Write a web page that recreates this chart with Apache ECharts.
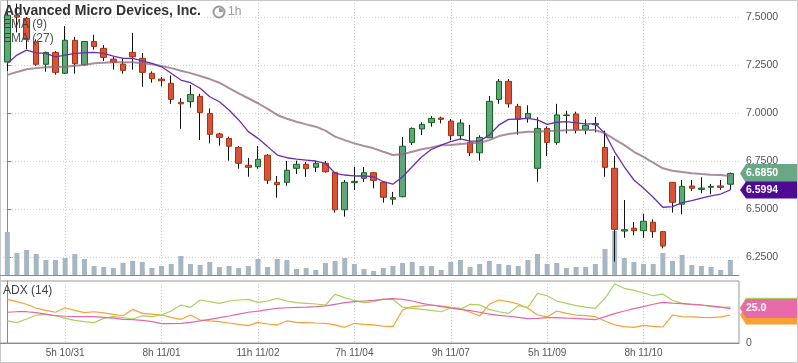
<!DOCTYPE html>
<html><head><meta charset="utf-8">
<script src="https://cdn.jsdelivr.net/npm/echarts@6/dist/echarts.min.js"></script>
<style>html,body{margin:0;padding:0;background:#fff}#c{width:798px;height:363px}</style>
</head><body><div id="c"></div><script>
// ---- data (1h candles, AMD) ----
const xTickIdx = [6, 16, 26, 36, 46, 56, 66];
const xTickLabels = ['5h 10/31', '8h 11/01', '11h 11/02', '7h 11/04', '9h 11/07', '5h 11/09', '8h 11/10'];
const priceTicks = [6.25, 6.5, 6.75, 7.0, 7.25, 7.5];

const open = [7.266,7.510,7.493,7.371,7.254,7.316,7.207,7.379,7.252,7.373,
 7.337,7.281,7.255,7.316,7.285,7.207,7.177,7.155,7.056,7.059,
 7.087,6.998,6.891,6.868,6.821,6.728,6.720,6.780,6.639,6.639,
 6.712,6.733,6.717,6.738,6.691,6.496,6.637,6.660,6.689,6.639,
 6.551,6.564,6.847,6.917,6.950,6.974,6.958,6.882,6.847,6.793,
 6.871,7.071,7.165,7.035,6.972,6.712,6.920,6.847,6.987,6.995,
 6.915,6.939,6.821,6.712,6.385,6.400,6.387,6.431,6.382,6.639,
 6.525,6.620,6.602,6.613,6.620,6.629];
const close = [7.510,7.500,7.384,7.254,7.316,7.212,7.379,7.257,7.373,7.347,
 7.290,7.264,7.222,7.293,7.212,7.179,7.168,7.071,7.048,7.097,
 7.003,6.889,6.873,6.827,6.738,6.717,6.759,6.650,6.627,6.702,
 6.733,6.710,6.738,6.694,6.496,6.639,6.644,6.689,6.649,6.561,
 6.559,6.827,6.920,6.941,6.972,6.967,6.882,6.948,6.793,6.873,
 7.061,7.165,7.048,6.967,6.998,6.920,6.847,6.990,6.990,6.911,
 6.936,6.945,6.717,6.394,6.392,6.387,6.436,6.382,6.307,6.535,
 6.618,6.608,6.609,6.618,6.613,6.685];
const low = [7.219,7.420,7.333,7.246,7.215,7.200,7.203,7.205,7.245,7.330,
 7.271,7.226,7.205,7.226,7.137,7.158,7.139,7.048,6.918,7.028,
 6.859,6.842,6.830,6.752,6.710,6.668,6.710,6.630,6.559,6.621,
 6.682,6.668,6.693,6.689,6.481,6.460,6.599,6.641,6.608,6.533,
 6.522,6.561,6.833,6.885,6.929,6.946,6.858,6.859,6.776,6.752,
 6.870,7.048,7.028,6.887,6.950,6.642,6.776,6.835,6.894,6.894,
 6.889,6.899,6.668,6.226,6.350,6.363,6.350,6.350,6.295,6.481,
 6.472,6.594,6.582,6.577,6.600,6.600];
const high = [7.521,7.570,7.500,7.384,7.320,7.323,7.453,7.396,7.375,7.408,
 7.354,7.292,7.288,7.418,7.313,7.217,7.188,7.196,7.077,7.146,
 7.100,7.024,6.897,6.877,6.828,6.766,6.828,6.786,6.672,6.750,
 6.752,6.746,6.750,6.750,6.693,6.651,6.720,6.719,6.690,6.640,
 6.589,6.875,6.925,6.952,6.984,6.981,6.969,6.967,6.938,6.884,
 7.089,7.177,7.177,7.048,7.040,6.978,6.930,7.048,7.012,7.007,
 6.967,6.979,6.908,6.776,6.547,6.432,6.474,6.446,6.385,6.640,
 6.651,6.651,6.665,6.630,6.651,6.690];
const volume = [43,22,25,21,15,15,17,21,16,9,
 8,7,12,14,13,7,9,11,19,11,
 10,13,8,9,7,9,16,8,16,15,
 6,7,5,12,14,17,11,6,4,7,
 9,12,13,9,9,5,13,15,8,11,
 14,11,10,9,15,21,11,12,7,8,
 8,11,26,44,17,13,11,11,22,14,
 20,10,9,8,5,15];
const ema9 = [7.260,7.302,7.328,7.314,7.311,7.293,7.302,7.311,7.314,7.316,
 7.311,7.297,7.285,7.285,7.272,7.259,7.241,7.207,7.172,7.158,
 7.129,7.085,7.059,7.016,6.964,6.903,6.868,6.825,6.781,6.767,
 6.760,6.755,6.750,6.738,6.686,6.677,6.672,6.672,6.668,6.642,
 6.629,6.668,6.720,6.772,6.811,6.833,6.851,6.865,6.854,6.854,
 6.885,6.938,6.967,6.969,6.972,6.964,6.941,6.952,6.955,6.949,
 6.944,6.943,6.894,6.798,6.720,6.651,6.608,6.561,6.509,6.512,
 6.533,6.543,6.556,6.568,6.578,6.5994];
const ema27 = [7.199,7.214,7.228,7.234,7.238,7.240,7.241,7.246,7.250,7.259,
 7.262,7.264,7.264,7.264,7.260,7.254,7.245,7.234,7.220,7.208,
 7.193,7.177,7.158,7.130,7.103,7.077,7.051,7.022,6.990,6.970,
 6.955,6.941,6.929,6.908,6.877,6.859,6.842,6.828,6.816,6.798,
 6.781,6.785,6.798,6.811,6.821,6.832,6.833,6.839,6.842,6.845,
 6.859,6.880,6.891,6.897,6.903,6.903,6.906,6.908,6.910,6.911,
 6.911,6.911,6.894,6.863,6.833,6.798,6.772,6.741,6.712,6.699,
 6.693,6.686,6.682,6.679,6.677,6.672];
const adx = [22.3,22.7,22.7,22.0,21.0,19.8,19.4,19.1,19.1,19.1,
 18.6,18.1,17.2,16.9,16.4,15.5,14.0,14.0,14.3,15.0,
 16.0,17.2,18.4,19.6,21.0,22.3,23.2,24.2,25.2,25.6,
 25.9,26.1,26.4,26.9,28.1,29.3,30.0,30.5,31.0,31.7,
 32.2,31.7,30.5,28.8,27.6,26.4,25.4,24.4,23.5,22.3,
 21.0,20.1,19.4,18.6,17.7,17.9,18.4,18.4,18.1,17.9,
 17.4,16.9,19.1,21.3,23.2,24.9,26.4,28.1,29.5,29.0,
 28.6,28.1,27.6,26.9,26.1,25.0];
const plusDI = [31.7,30.0,28.1,25.2,23.7,22.3,25.6,23.7,22.0,22.7,
 21.8,20.8,19.8,24.4,21.5,21.0,20.3,18.6,17.2,20.3,
 16.7,16.0,15.5,14.5,13.5,12.6,15.0,13.8,13.1,16.0,
 15.0,14.8,14.5,14.3,13.1,11.4,14.3,13.5,13.1,12.3,
 11.9,24.0,26.4,26.9,27.6,26.9,25.9,25.2,22.3,19.6,
 28.1,31.2,30.0,28.3,25.2,20.3,18.9,23.2,21.5,20.3,
 19.8,19.1,16.0,13.1,11.9,11.4,12.8,12.1,11.6,20.3,
 19.1,18.9,18.6,18.4,18.9,20.3];
const minusDI = [16.0,14.8,17.4,20.3,20.8,19.8,17.9,16.4,15.5,14.8,
 17.9,19.1,18.4,17.4,19.8,19.1,20.3,23.2,27.6,25.9,
 31.2,30.0,28.8,30.5,31.2,31.7,29.5,30.5,32.4,30.5,
 29.3,28.8,28.3,27.6,35.3,32.9,30.7,29.3,30.0,31.9,
 31.7,26.0,25.2,24.4,23.7,22.7,25.6,24.4,28.1,27.6,
 24.4,22.7,21.5,27.1,25.9,36.0,34.3,30.5,28.8,27.1,
 26.1,25.2,32.4,42.8,39.7,38.2,36.3,34.3,35.6,31.0,
 28.8,28.1,27.6,26.4,25.9,26.0];

// ---- styling ----
const FONT = "'Liberation Sans', Arial, sans-serif";
const C = {
  upFill: '#62a47c', upBorder: '#0e6a1c', downFill: '#d9533b', downBorder: '#a6330f',
  ema9: '#6c2db5', ema27: 'rgba(140,105,125,0.75)', vol: '#a6b6c3',
  adx: '#e667a6', plus: '#f8a133', minus: '#a7d25c', grid: '#cfcfcf', axis: '#8a8a8a', text: '#555'
};
const idx = open.map((_, i) => i);
const pairs = arr => arr.map((v, i) => [i, v]);
const X_MIN = -0.76, X_MAX = 75.9;

const labelFor = v => { const k = xTickIdx.indexOf(Math.round(v)); return k >= 0 ? xTickLabels[k] : ''; };

const xCommon = {
  type: 'value', min: X_MIN, max: X_MAX,
  axisTick: { show: false, customValues: xTickIdx },
  splitLine: { show: true, lineStyle: { color: C.grid, type: [1, 2], width: 1 } }
};
const smallTitle = (text, left, top, color) => ({
  text: text, left: left, top: top, padding: 0, zlevel: 1, z: 20,
  textStyle: { fontSize: 12, fontWeight: 'normal', color: color, fontFamily: FONT }
});

const chart = echarts.init(document.getElementById('c'), null, { renderer: 'canvas' });
chart.setOption({
  animation: false,
  backgroundColor: '#fff',
  textStyle: { fontFamily: FONT },
  title: [
    { text: 'Advanced Micro Devices, Inc.', left: 4, top: 4, padding: 0, zlevel: 1, z: 20,
      textStyle: { fontSize: 14, fontWeight: 'bold', color: '#333', fontFamily: FONT } },
    smallTitle('1h', 228, 6, '#9a9a9a'),
    smallTitle('EMA (9)', 3, 19, 'rgba(60,60,60,0.9)'),
    smallTitle('EMA (27)', 3, 33, 'rgba(60,60,60,0.9)'),
    smallTitle('ADX (14)', 3, 285, '#444')
  ],
  grid: [
    { left: 0, right: 59, top: 0, height: 275 },
    { left: 0, right: 59, top: 175, height: 100 },
    { left: 0, right: 59, top: 281, height: 62, show: true, borderColor: '#999', borderWidth: 1, backgroundColor: 'transparent' }
  ],
  xAxis: [
    Object.assign({}, xCommon, { gridIndex: 0, axisLine: { show: true, onZero: false, lineStyle: { color: C.axis } },
      axisLabel: { show: false, customValues: xTickIdx } }),
    { type: 'value', gridIndex: 1, min: X_MIN, max: X_MAX, show: false },
    Object.assign({}, xCommon, { gridIndex: 2, axisLine: { show: true, onZero: false, lineStyle: { color: C.axis } },
      axisLabel: { show: true, customValues: xTickIdx, formatter: labelFor, color: C.text, fontSize: 10, margin: 5, fontFamily: FONT } })
  ],
  yAxis: [
    { type: 'value', gridIndex: 0, position: 'right', min: 6.156, max: 7.589, scale: true,
      axisLine: { show: true, lineStyle: { color: C.axis } },
      axisTick: { show: true, length: 4, customValues: priceTicks, lineStyle: { color: C.axis } },
      axisLabel: { customValues: priceTicks, formatter: v => v.toFixed(4), color: C.text, fontSize: 10.5, margin: 7, fontFamily: FONT },
      splitLine: { show: true, lineStyle: { color: C.grid, type: [1, 2] } } },
    { type: 'value', gridIndex: 1, min: 0, max: 100, show: false },
    { type: 'value', gridIndex: 2, position: 'right', min: 0, max: 45,
      axisLine: { show: true, lineStyle: { color: C.axis } },
      axisTick: { show: true, length: 4, customValues: [0], lineStyle: { color: C.axis } },
      axisLabel: { customValues: [0], formatter: v => String(v), color: C.text, fontSize: 10.5, margin: 7, fontFamily: FONT },
      splitLine: { show: false } }
  ],
  series: [
    { name: 'Volume', type: 'bar', xAxisIndex: 1, yAxisIndex: 1, data: pairs(volume), barWidth: 5,
      itemStyle: { color: C.vol }, z: 1 },
    { name: 'wick', type: 'candlestick', xAxisIndex: 0, yAxisIndex: 0, barWidth: 1, z: 2,
      encode: { x: 0, y: [1, 2, 3, 4] },
      data: idx.map(i => [i, open[i], close[i], low[i], high[i]]),
      itemStyle: { color: '#111', color0: '#111', borderColor: '#111', borderColor0: '#111', borderWidth: 1 } },
    { name: 'AMD', type: 'candlestick', xAxisIndex: 0, yAxisIndex: 0, barWidth: 6, z: 3,
      encode: { x: 0, y: [1, 2, 3, 4] },
      data: idx.map(i => [i, open[i], close[i], Math.min(open[i], close[i]), Math.max(open[i], close[i])]),
      itemStyle: { color: C.upFill, color0: C.downFill, borderColor: C.upBorder, borderColor0: C.downBorder, borderWidth: 1 } },
    { name: 'EMA (27)', type: 'line', xAxisIndex: 0, yAxisIndex: 0, data: pairs(ema27), symbol: 'none', z: 4,
      lineStyle: { color: C.ema27, width: 2 } },
    { name: 'EMA (9)', type: 'line', xAxisIndex: 0, yAxisIndex: 0, data: pairs(ema9), symbol: 'none', z: 5,
      lineStyle: { color: C.ema9, width: 1.3 } },
    { name: '+DI', type: 'line', xAxisIndex: 2, yAxisIndex: 2, data: pairs(plusDI), symbol: 'none', z: 4,
      lineStyle: { color: C.plus, width: 1.2 } },
    { name: '-DI', type: 'line', xAxisIndex: 2, yAxisIndex: 2, data: pairs(minusDI), symbol: 'none', z: 4,
      lineStyle: { color: C.minus, width: 1.2 } },
    { name: 'ADX', type: 'line', xAxisIndex: 2, yAxisIndex: 2, data: pairs(adx), symbol: 'none', z: 5,
      lineStyle: { color: C.adx, width: 1.2 } }
  ]
});

// ---- value tags on the right axis, placed through the library's scales ----
const last = open.length - 1;
const axisX = chart.convertToPixel({ xAxisIndex: 0 }, X_MAX);
function tag(gridIdx, value, text, fill, h) {
  const y = chart.convertToPixel({ xAxisIndex: gridIdx === 0 ? 0 : 2, yAxisIndex: gridIdx === 0 ? 0 : 2 }, [last, value])[1];
  const x0 = axisX + 1, x1 = axisX + 7, x2 = 797;
  return {
    type: 'group', zlevel: 1, children: [
      { type: 'polygon', zlevel: 1, shape: { points: [[x0, y], [x1, y - h / 2], [x2, y - h / 2], [x2, y + h / 2], [x1, y + h / 2]] },
        style: { fill: fill } },
      { type: 'text', zlevel: 1, x: x1, y: y, style: { text: text, fill: '#fff', font: 'bold 10.5px ' + FONT, verticalAlign: 'middle', textAlign: 'left' } }
    ]
  };
}
chart.setOption({
  graphic: [
    { type: 'rect', shape: { x: 0.5, y: 0.5, width: 797, height: 362 }, style: { fill: 'none', stroke: '#c8c8c8', lineWidth: 1 }, silent: true },
    { type: 'circle', zlevel: 1, shape: { cx: 219, cy: 12, r: 5.5 }, style: { fill: 'none', stroke: '#9a9a9a', lineWidth: 2 } },
    { type: 'sector', zlevel: 1, shape: { cx: 219, cy: 12, r: 4, startAngle: -Math.PI / 2, endAngle: 0 }, style: { fill: '#9a9a9a' } },
    tag(0, close[last], close[last].toFixed(4), '#6aa784', 19),
    tag(0, ema9[last], ema9[last].toFixed(4), '#4e0a92', 17),
    tag(2, plusDI[last], plusDI[last].toFixed(1), C.plus, 19),
    tag(2, minusDI[last], minusDI[last].toFixed(1), C.minus, 19),
    tag(2, adx[last], adx[last].toFixed(1), '#e86aa8', 19)
  ]
});
</script></body></html>
